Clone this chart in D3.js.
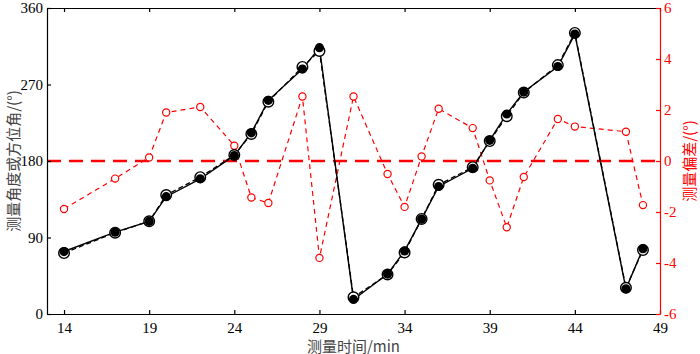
<!DOCTYPE html>
<html lang="zh">
<head>
<meta charset="UTF-8">
<title>测量角度与偏差</title>
<script src="https://d3js.org/d3.v7.min.js"></script>
<style>
  body { margin: 0; background: #fff; }
  text { font-family: "Liberation Serif", "Times New Roman", serif; }
  .cjk { font-family: "Noto Sans CJK SC", "Noto Sans", sans-serif; }
</style>
</head>
<body>
<svg id="chart" width="700" height="354"></svg>
<script>
// measurement time (min)
const times = [14, 17, 19, 20, 22, 24, 25, 26, 28, 29, 31, 33, 34, 35, 36, 38, 39, 40, 41, 43, 44, 47, 48];
// measured angle (filled circles, solid line)
const measuredAngle = [73.5, 96.3, 109, 138, 159, 186.4, 213.2, 251.4, 288.1, 313.3, 17.1, 47, 74.2, 111.7, 150, 171.4, 204.3, 235.3, 261.1, 291.2, 329.3, 29.6, 76.9];
// azimuth (open circles, dashed line)
const azimuth = [71.7, 95.7, 109.1, 140, 161, 187, 211.8, 249.8, 290.7, 309.5, 19.7, 46.5, 72.4, 111.9, 152, 172.7, 203.5, 232.7, 260.5, 292.8, 330.7, 30.8, 75.2];
// measurement deviation (red, right axis)
const deviation = [-1.88, -0.69, 0.14, 1.9, 2.12, 0.6, -1.43, -1.65, 2.53, -3.8, 2.53, -0.51, -1.8, 0.18, 2.05, 1.29, -0.76, -2.6, -0.63, 1.65, 1.35, 1.15, -1.73];

const xTicks = [14, 19, 24, 29, 34, 39, 44, 49];
const yLeftTicks = [0, 90, 180, 270, 360];
const yRightTicks = [-6, -4, -2, 0, 2, 4, 6];

const svg = d3.select('#chart');
const margin = { top: 8, right: 40, bottom: 40, left: 47 };
const W = 700, H = 354;

const x = d3.scaleLinear().domain([13, 49]).range([margin.left, W - margin.right]);
const yL = d3.scaleLinear().domain([0, 360]).range([H - margin.bottom, margin.top]);
const yR = d3.scaleLinear().domain([-6, 6]).range([H - margin.bottom, margin.top]);

const red = '#ff0000';

// zero-deviation reference line
svg.append('line')
    .attr('x1', x(13)).attr('x2', x(49))
    .attr('y1', yR(0)).attr('y2', yR(0))
    .attr('stroke', red).attr('stroke-width', 2.5)
    .attr('stroke-dasharray', '14,8');

// deviation line
const lineDev = d3.line().x((d, i) => x(times[i])).y(d => yR(d));
svg.append('path')
    .attr('d', lineDev(deviation))
    .attr('fill', 'none').attr('stroke', red).attr('stroke-width', 1.2)
    .attr('stroke-dasharray', '5,4');
svg.selectAll('.dev-pt').data(deviation).enter().append('circle')
    .attr('class', 'dev-pt')
    .attr('cx', (d, i) => x(times[i])).attr('cy', d => yR(d))
    .attr('r', 3.6).attr('fill', '#fff').attr('stroke', red).attr('stroke-width', 1.2);

// angle lines
const lineAng = d3.line().x((d, i) => x(times[i])).y(d => yL(d));
svg.append('path')
    .attr('d', lineAng(azimuth))
    .attr('fill', 'none').attr('stroke', '#000').attr('stroke-width', 1.3)
    .attr('stroke-dasharray', '5,3');
svg.append('path')
    .attr('d', lineAng(measuredAngle))
    .attr('fill', 'none').attr('stroke', '#000').attr('stroke-width', 1.4);

svg.selectAll('.az-pt').data(azimuth).enter().append('circle')
    .attr('class', 'az-pt')
    .attr('cx', (d, i) => x(times[i])).attr('cy', d => yL(d))
    .attr('r', 5.3).attr('fill', '#fff').attr('stroke', '#000').attr('stroke-width', 1.4);
svg.selectAll('.ma-pt').data(measuredAngle).enter().append('circle')
    .attr('class', 'ma-pt')
    .attr('cx', (d, i) => x(times[i])).attr('cy', d => yL(d))
    .attr('r', 4.6).attr('fill', '#000');

// axes with inward ticks
const fs = '15px';
const gBottom = svg.append('g')
    .attr('transform', `translate(0,${H - margin.bottom})`)
    .call(d3.axisBottom(x).tickValues(xTicks).tickSizeInner(-4).tickSizeOuter(0).tickPadding(8));
const gTop = svg.append('g')
    .attr('transform', `translate(0,${margin.top})`)
    .call(d3.axisTop(x).tickValues(xTicks).tickSizeInner(-4).tickSizeOuter(0).tickFormat(''));
const gLeft = svg.append('g')
    .attr('transform', `translate(${margin.left},0)`)
    .call(d3.axisLeft(yL).tickValues(yLeftTicks).tickSizeInner(-4).tickSizeOuter(0).tickPadding(4));
const gRight = svg.append('g')
    .attr('transform', `translate(${W - margin.right},0)`)
    .call(d3.axisRight(yR).tickValues(yRightTicks).tickSizeInner(-4).tickSizeOuter(0).tickPadding(4)
        .tickFormat(d => String(d))); // plain hyphen minus like the original

[gBottom, gTop, gLeft].forEach(g => {
    g.selectAll('path, line').attr('stroke', '#000').attr('stroke-width', 1.2);
    g.selectAll('text').attr('fill', '#000').style('font-size', fs);
});
gRight.selectAll('path, line').attr('stroke', red).attr('stroke-width', 1.2);
gRight.selectAll('text').attr('fill', red).style('font-size', fs);

// axis titles
svg.append('text')
    .attr('class', 'cjk')
    .attr('transform', `translate(12,${(margin.top + H - margin.bottom) / 2}) rotate(-90)`)
    .attr('text-anchor', 'middle').attr('dominant-baseline', 'central')
    .style('font-size', '15px').attr('fill', '#444')
    .text('测量角度或方位角/(°)');
svg.append('text')
    .attr('class', 'cjk')
    .attr('transform', `translate(688,${(margin.top + H - margin.bottom) / 2}) rotate(-90)`)
    .attr('text-anchor', 'middle').attr('dominant-baseline', 'central')
    .style('font-size', '15px').attr('fill', red)
    .text('测量偏差/(°)');
svg.append('text')
    .attr('class', 'cjk')
    .attr('x', (margin.left + W - margin.right) / 2).attr('y', 345)
    .attr('text-anchor', 'middle').attr('dominant-baseline', 'central')
    .style('font-size', '15px').attr('fill', '#444')
    .text('测量时间/min');
</script>
</body>
</html>
